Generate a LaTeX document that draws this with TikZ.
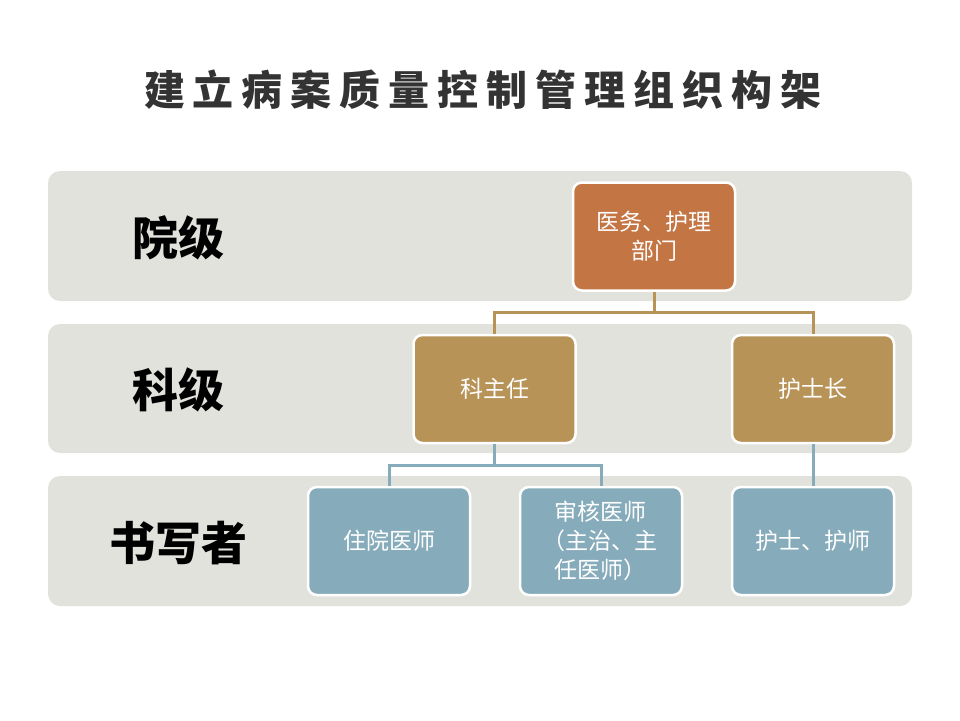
\documentclass[tikz,border=0pt]{standalone}
\usepackage{fontspec}
\newfontfamily\cjk{Noto Sans CJK SC}
\newfontfamily\cjkblack{Noto Sans CJK SC Black}
\definecolor{bandc}{HTML}{E2E2DC}
\definecolor{topc}{HTML}{C47544}
\definecolor{midc}{HTML}{B89358}
\definecolor{lowc}{HTML}{86ABBB}
\definecolor{titlec}{HTML}{333333}
\newcommand\tg{\hspace{8pt}}
\begin{document}
\begin{tikzpicture}[x=1pt,y=-1pt,
  band/.style={fill=bandc,rounded corners=12pt},
  orgbox/.style={draw=white,line width=2.5pt,rounded corners=9pt,minimum width=162pt,minimum height=108pt,inner sep=4pt,text=white,align=center,font=\cjk\fontsize{23}{29}\selectfont,text width=140pt},
  lvl/.style={font=\cjk\bfseries\fontsize{46}{50}\selectfont,text=black},
  tanline/.style={draw=midc,line width=3pt},
  blueline/.style={draw=lowc,line width=3pt}]
\useasboundingbox (0,0) rectangle (960,720);
\fill[white] (0,0) rectangle (960,720);
\node[font=\cjkblack\fontsize{41}{44}\selectfont,text=titlec] (title) at (483,90) {建\tg 立\tg 病\tg 案\tg 质\tg 量\tg 控\tg 制\tg 管\tg 理\tg 组\tg 织\tg 构\tg 架};
\fill[band] (48,171) rectangle (912,301);
\fill[band] (48,324) rectangle (912,453);
\fill[band] (48,476) rectangle (912,606);
\node[lvl] (l1) at (178,238) {院级};
\node[lvl] (l2) at (178,390) {科级};
\node[lvl] (l3) at (178,543) {书写者};
\node[orgbox,fill=topc] (top) at (654,236.5) {医务、护理\\部门};
\node[orgbox,fill=midc] (kzr) at (494.5,389) {科主任};
\node[orgbox,fill=midc] (hsz) at (813,389) {护士长};
\node[orgbox,fill=lowc] (zy) at (389,541) {住院医师};
\node[orgbox,fill=lowc,text width=94pt,align=left] (sh) at (601,541) {审核医师\\\hspace*{-12pt}（主治、主\\任医师）};
\node[orgbox,fill=lowc] (hs) at (813,541) {护士、护师};
\draw[tanline] (top.south) -- ++(0,21) -| (kzr.north);
\draw[tanline] (top.south) ++(0,21) -| (hsz.north);
\draw[blueline] (kzr.south) -- ++(0,21) -| (zy.north);
\draw[blueline] (kzr.south) ++(0,21) -| (sh.north);
\draw[blueline] (hsz.south) -- (hs.north);
\end{tikzpicture}
\end{document}
